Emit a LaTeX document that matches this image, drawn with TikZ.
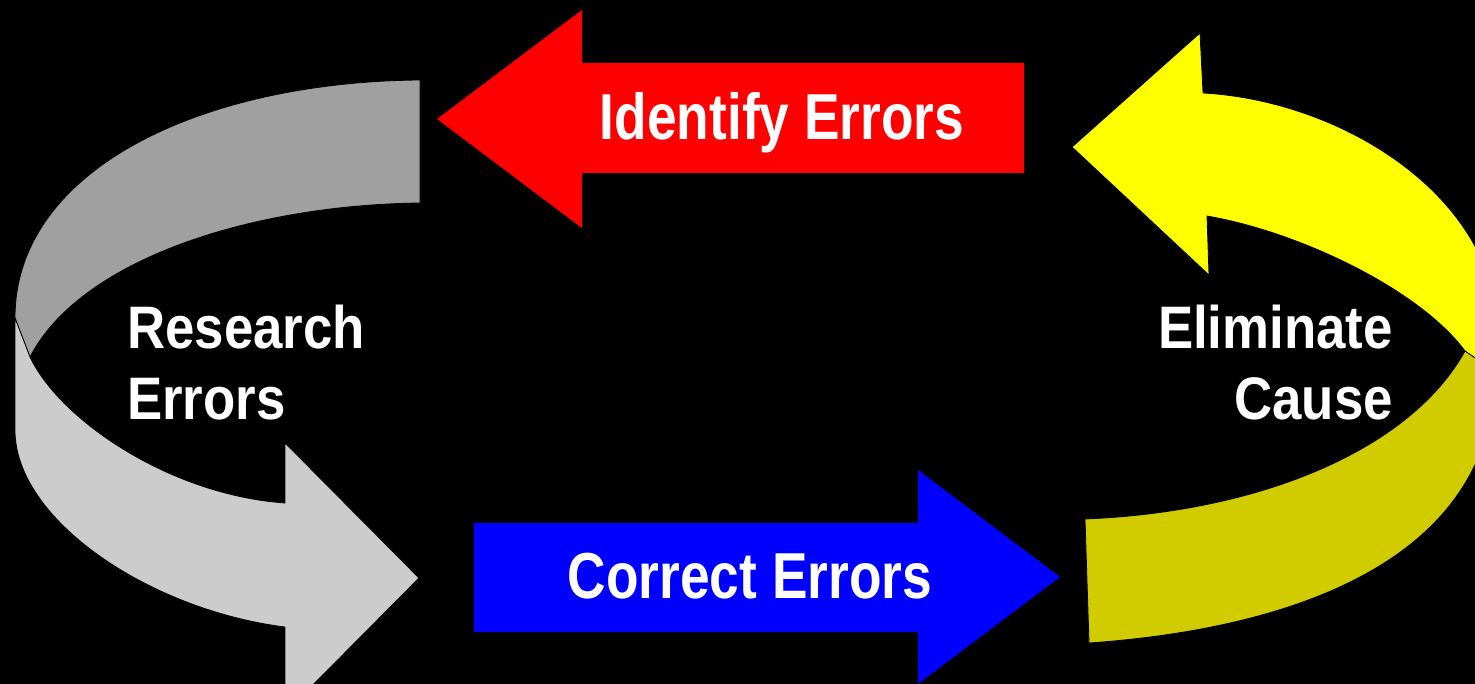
\documentclass[tikz,border=0pt]{standalone}
\usepackage{graphicx}
\usepackage{fontspec}
\newfontfamily\labfont{Liberation Sans}
\definecolor{graydark}{HTML}{A0A0A0}
\definecolor{graylight}{HTML}{CCCCCC}
\definecolor{yelbright}{HTML}{FFFF00}
\definecolor{yeldark}{HTML}{D0CC00}
\definecolor{redarrow}{HTML}{FF0000}
\definecolor{bluearrow}{HTML}{0000FF}
\begin{document}
\begin{tikzpicture}[x=1pt,y=-1pt,
  lbl/.style={text=white,inner sep=0pt,font=\labfont\bfseries\fontsize{65}{70}\selectfont},
  sidelbl/.style={text=white,inner sep=0pt,font=\labfont\bfseries\fontsize{60}{71}\selectfont},
  ribbon/.style={draw=black,line width=0.8pt,line join=round}]
\useasboundingbox (0,0) rectangle (1475,684);
\fill[black] (0,0) rectangle (1475,684);
\clip (0,0) rectangle (1475,684);
% gray arrow, dark upper band
\fill[graydark,ribbon] (420,80) .. controls (200,82) and (15,170) .. (15,318)
  -- (30,357) .. controls (80,260) and (250,205) .. (420,203) -- cycle;
% gray arrow, light lower band with head
\fill[graylight,ribbon] (15,318) -- (15,430) .. controls (15,520) and (150,610) .. (285,627)
  -- (285,713) -- (419,578) -- (285,443) -- (285,503)
  .. controls (170,495) and (60,420) .. (30,357) -- cycle;
% yellow arrow, bright upper band with head
\fill[yelbright,ribbon] (1207,216) -- (1209,275) -- (1072,147) -- (1200,33) -- (1203,93)
  .. controls (1330,100) and (1470,180) .. (1495,300) -- (1495,372) -- (1465,351)
  .. controls (1420,290) and (1300,232) .. (1207,216) -- cycle;
% yellow arrow, dark lower band
\fill[yeldark,ribbon] (1465,351) .. controls (1410,450) and (1260,512) .. (1085,519)
  -- (1089,643) .. controls (1300,628) and (1460,560) .. (1490,420) -- (1495,372) -- cycle;
% red arrow
\fill[redarrow] (1024,63) -- (582,63) -- (582,10) -- (437,119) -- (582,228) -- (582,173) -- (1024,173) -- cycle;
% blue arrow
\fill[bluearrow] (474,523) -- (918,523) -- (918,470) -- (1060,577) -- (918,684) -- (918,632) -- (474,632) -- cycle;
% labels
\node[lbl,anchor=base] (ident) at (782,140) {\scalebox{0.82}[1]{Identify Errors}};
\node[lbl,anchor=base] (correct) at (750,598) {\scalebox{0.82}[1]{Correct Errors}};
\node[sidelbl,anchor=base west] (research) at (127,349)
  {\scalebox{0.88}[1]{\begin{tabular}[t]{@{}l@{}}Research\\Errors\end{tabular}}};
\node[sidelbl,anchor=base east] (elim) at (1393,349)
  {\scalebox{0.88}[1]{\begin{tabular}[t]{@{}r@{}}Eliminate\\Cause\end{tabular}}};
\end{tikzpicture}
\end{document}
